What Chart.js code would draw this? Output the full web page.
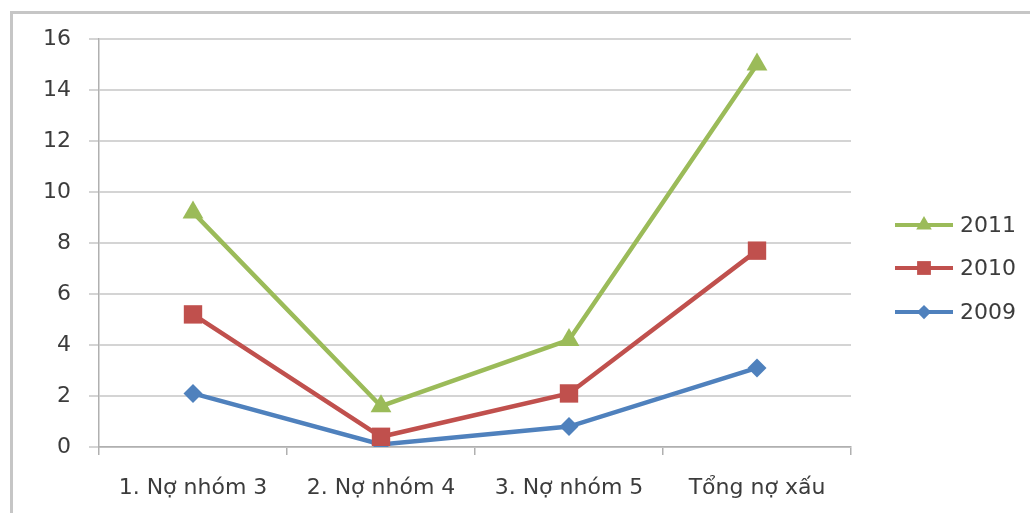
<!DOCTYPE html>
<html>
<head>
<meta charset="utf-8">
<script src="https://cdn.jsdelivr.net/npm/chart.js@4/dist/chart.umd.min.js"></script>
<style>
  html, body { margin: 0; padding: 0; background: #fff; }
  #wrap { position: relative; width: 1030px; height: 513px; overflow: hidden; }
  #frame {
    position: absolute; left: 10px; top: 11px; width: 1100px; height: 600px;
    border-top: 3px solid #c6c6c6; border-left: 3px solid #c6c6c6;
  }
  #chart { position: absolute; left: 0; top: 0; }
</style>
</head>
<body>
<div id="wrap">
  <div id="frame"></div>
  <canvas id="chart" width="1030" height="513"></canvas>
</div>
<script>
// Nợ xấu theo nhóm, 2009 - 2011
const categories = ["1. Nợ nhóm 3", "2. Nợ nhóm 4", "3. Nợ nhóm 5", "Tổng nợ xấu"];
const years = ["2011", "2010", "2009"];
const values2011 = [9.2, 1.6, 4.2, 15.0];
const values2010 = [5.2, 0.4, 2.1, 7.7];
const values2009 = [2.1, 0.1, 0.8, 3.1];
const yTicks = [0, 2, 4, 6, 8, 10, 12, 14, 16];

const textColor = "#3c3c3c";
const gridColor = "#d4d4d4";
const fontFamily = "'DejaVu Sans', sans-serif";

function series(label, data, color, pointStyle, radius) {
  return {
    label: label,
    data: data,
    borderColor: color,
    backgroundColor: color,
    borderWidth: 4.5,
    pointStyle: pointStyle,
    pointRadius: radius,
    pointBorderWidth: 0,
    pointBackgroundColor: color,
    tension: 0
  };
}

// legend drawn by hand: short line with the marker on it, then the year
const sideLegend = {
  id: "sideLegend",
  afterDraw(chart) {
    const ctx = chart.ctx;
    const rows = [225, 268, 312];
    ctx.save();
    chart.data.datasets.forEach((ds, i) => {
      const y = rows[i];
      ctx.strokeStyle = ds.borderColor;
      ctx.lineWidth = 4;
      ctx.beginPath();
      ctx.moveTo(895, y);
      ctx.lineTo(953, y);
      ctx.stroke();
      ctx.fillStyle = ds.borderColor;
      Chart.helpers.drawPoint(ctx, {
        pointStyle: ds.pointStyle,
        radius: ds.pointRadius * 0.75,
        rotation: 0,
        borderWidth: 0
      }, 924, y);
      ctx.fillStyle = textColor;
      ctx.font = "22px " + fontFamily;
      ctx.textBaseline = "middle";
      ctx.textAlign = "left";
      ctx.fillText(ds.label, 960, y + 1);
    });
    ctx.restore();
  }
};

new Chart(document.getElementById("chart"), {
  type: "line",
  data: {
    labels: categories,
    datasets: [
      series(years[0], values2011, "#9bbb59", "triangle", 12),
      series(years[1], values2010, "#c0504d", "rect", 13),
      series(years[2], values2009, "#4f81bd", "rectRot", 9.5)
    ]
  },
  options: {
    responsive: false,
    animation: false,
    layout: { padding: { left: 0, right: 179, top: 39, bottom: 0 } },
    plugins: {
      legend: { display: false },
      tooltip: { enabled: false }
    },
    scales: {
      x: {
        offset: true,
        grid: {
          display: true,
          offset: true,
          drawOnChartArea: false,
          drawTicks: true,
          tickLength: 8,
          color: "#b0b0b0",
          lineWidth: 1.5
        },
        border: { display: true, color: "#b0b0b0", width: 1.5 },
        ticks: {
          color: textColor,
          padding: 20,
          maxRotation: 0,
          font: { family: fontFamily, size: 22 }
        },
        afterFit(scale) { scale.height = 66; }
      },
      y: {
        min: 0,
        max: 16,
        afterBuildTicks(scale) { scale.ticks = yTicks.map(v => ({ value: v })); },
        grid: {
          color: gridColor,
          lineWidth: 2,
          drawTicks: true,
          tickLength: 10
        },
        border: { display: true, color: "#b0b0b0", width: 1.5 },
        ticks: {
          color: textColor,
          padding: 18,
          font: { family: fontFamily, size: 22 }
        },
        afterFit(scale) { scale.width = 99; }
      }
    }
  },
  plugins: [sideLegend]
});
</script>
</body>
</html>
